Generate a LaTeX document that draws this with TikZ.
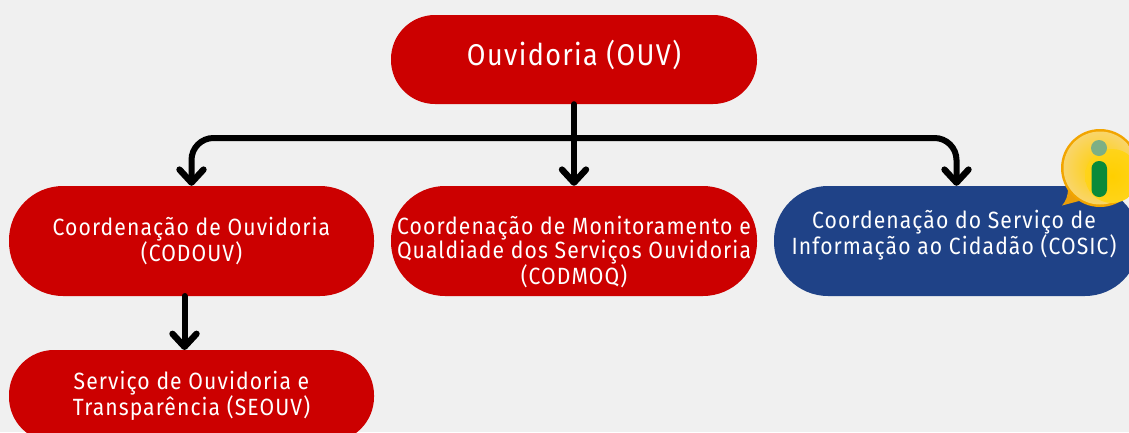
\documentclass[tikz,border=0pt]{standalone}
\usepackage{fontspec}
\setmainfont{Fira Sans}[FakeStretch=0.9,LetterSpace=4.6]
\usetikzlibrary{arrows.meta,shadings}
\definecolor{bgc}{HTML}{F0F0F0}
\definecolor{redc}{HTML}{CC0000}
\definecolor{bluec}{HTML}{1F4287}
\definecolor{yelo}{HTML}{F2A500}
\definecolor{yelc}{HTML}{FFCF00}
\definecolor{yell}{HTML}{F9D56A}
\definecolor{grn}{HTML}{0A8A3A}
\definecolor{grl}{HTML}{7DAF85}
\tikzset{
 x=1pt,y=-1pt,
 pill/.style={fill=redc,inner sep=0pt,rounded corners=#1},
 pill/.default=45pt,
 pilltext/.style={text=white,align=center,inner sep=0pt,font=\fontsize{23.5}{24}\selectfont},
 conn/.style={line width=6pt,draw=black,line cap=round,-{Straight Barb[length=13pt,width=24pt,line width=6.4pt,round]}},
}
\begin{document}
\begin{tikzpicture}
\useasboundingbox[fill=bgc] (0,0) rectangle (1129,432);
\node[pill=44pt,minimum width=366pt,minimum height=89pt,label={[pilltext,font=\fontsize{30}{32}\selectfont,yshift=5pt]center:Ouvidoria (OUV)}] (ouv) at (574,59.5) {};
\node[pill=54pt,minimum width=365pt,minimum height=110pt,label={[pilltext]center:Coordenação de Ouvidoria\\(CODOUV)}] (cod) at (191.5,241) {};
\node[pill=54pt,minimum width=366pt,minimum height=110pt,label={[pilltext,yshift=-11pt]center:Coordenação de Monitoramento e\\Qualdiade dos Serviços Ouvidoria\\(CODMOQ)}] (mon) at (574,241) {};
\node[pill=54pt,fill=bluec,minimum width=365pt,minimum height=110pt,label={[pilltext,yshift=6pt,xshift=-2.5pt]center:Coordenação do Serviço de\\Informação ao Cidadão (COSIC)}] (cos) at (956.5,241) {};
\node[pill=45pt,minimum width=365pt,minimum height=92pt,label={[pilltext]center:Serviço de Ouvidoria e\\Transparência (SEOUV)}] (seo) at (191.5,396) {};
\coordinate (bus) at (574,138);
\draw[conn] (ouv.south) -- (mon.north);
\draw[conn,rounded corners=22pt] (bus) -| (cod.north);
\draw[conn,rounded corners=22pt] (bus) -| (cos.north);
\coordinate (a) at (184.5,296);\coordinate (b) at (184.5,350);
\draw[conn] (a) -- (b);
% icon
\fill[yelo!85!brown] (1079,201) -- (1062,205.5) .. controls (1066,201) and (1068,196) .. (1068,188) -- cycle;
\fill[yelo] (1100,168) circle (39pt);
\shade[inner color=yelc,outer color=yell] (1100,168) circle (36.5pt);
\shade[inner color=yelc,outer color=yelc!90!white] (1112,176) circle (27pt);
\fill[grl] (1099,148) circle (8pt);
\fill[grn,rounded corners=7.5pt] (1091.5,161) rectangle (1107,197);
\end{tikzpicture}
\end{document}
